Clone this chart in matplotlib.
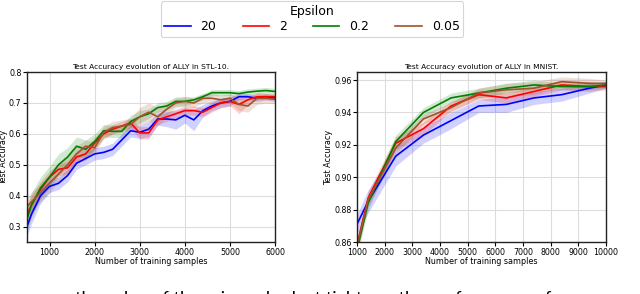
import numpy as np
import matplotlib
matplotlib.use('Agg')
import matplotlib.pyplot as plt

# STL-10 run
stl_x = [500, 600, 800, 1000, 1200, 1400, 1600, 1800, 2000, 2200, 2400, 2600, 2800, 3000,
         3200, 3400, 3600, 3800, 4000, 4200, 4400, 4600, 4800, 5000, 5200, 5400, 5600, 5800, 6000]
stl_eps20 = [0.300, 0.340, 0.400, 0.430, 0.440, 0.465, 0.505, 0.520, 0.535, 0.540, 0.550, 0.580,
             0.610, 0.605, 0.615, 0.648, 0.648, 0.645, 0.660, 0.645, 0.675, 0.690, 0.700, 0.705,
             0.720, 0.720, 0.715, 0.720, 0.715]
stl_eps2 = [0.340, 0.370, 0.420, 0.460, 0.485, 0.490, 0.525, 0.535, 0.570, 0.600, 0.615, 0.625,
            0.635, 0.603, 0.603, 0.645, 0.655, 0.665, 0.675, 0.675, 0.670, 0.685, 0.700, 0.705,
            0.695, 0.710, 0.720, 0.720, 0.720]
stl_eps02 = [0.325, 0.370, 0.425, 0.460, 0.500, 0.525, 0.560, 0.550, 0.575, 0.610, 0.608, 0.608,
             0.640, 0.655, 0.665, 0.685, 0.690, 0.705, 0.705, 0.710, 0.720, 0.733, 0.733, 0.733,
             0.730, 0.735, 0.738, 0.740, 0.737]
stl_eps005 = [0.365, 0.380, 0.410, 0.440, 0.470, 0.500, 0.535, 0.560, 0.555, 0.605, 0.620, 0.625,
              0.630, 0.655, 0.670, 0.655, 0.680, 0.700, 0.705, 0.700, 0.715, 0.715, 0.710, 0.715,
              0.695, 0.690, 0.715, 0.715, 0.712]
stl_sd20 = [0.03, 0.03, 0.025, 0.02, 0.02, 0.02, 0.02, 0.02, 0.02, 0.02, 0.02, 0.02, 0.02, 0.02,
            0.025, 0.02, 0.025, 0.03, 0.025, 0.035, 0.02, 0.015, 0.015, 0.015, 0.01, 0.01, 0.01, 0.01, 0.01]
stl_sd2 = [0.03, 0.03, 0.025, 0.02, 0.02, 0.02, 0.02, 0.02, 0.02, 0.015, 0.015, 0.015, 0.015, 0.02,
           0.02, 0.015, 0.015, 0.015, 0.015, 0.015, 0.015, 0.015, 0.015, 0.015, 0.03, 0.015, 0.01, 0.01, 0.01]
stl_sd02 = [0.04, 0.04, 0.035, 0.035, 0.035, 0.03, 0.03, 0.03, 0.025, 0.02, 0.02, 0.02, 0.02, 0.02,
            0.015, 0.015, 0.015, 0.015, 0.015, 0.01, 0.01, 0.01, 0.01, 0.01, 0.01, 0.01, 0.01, 0.01, 0.01]
stl_sd005 = [0.03, 0.03, 0.03, 0.03, 0.025, 0.025, 0.025, 0.02, 0.02, 0.02, 0.02, 0.02, 0.02, 0.03,
             0.03, 0.03, 0.02, 0.015, 0.015, 0.015, 0.015, 0.015, 0.015, 0.015, 0.02, 0.02, 0.02, 0.015, 0.015]

# MNIST run
mn_x = [1000, 1400, 2400, 3400, 4400, 5400, 6400, 7400, 8400, 9400, 10000]
mn_eps20 = [0.871, 0.885, 0.913, 0.926, 0.935, 0.944, 0.945, 0.949, 0.951, 0.955, 0.957]
mn_eps2 = [0.858, 0.887, 0.921, 0.930, 0.944, 0.951, 0.949, 0.953, 0.957, 0.956, 0.956]
mn_eps02 = [0.855, 0.884, 0.922, 0.940, 0.949, 0.952, 0.955, 0.957, 0.956, 0.956, 0.957]
mn_eps005 = [0.857, 0.886, 0.918, 0.936, 0.943, 0.952, 0.954, 0.955, 0.959, 0.958, 0.958]
mn_sd20 = [0.006, 0.007, 0.006, 0.005, 0.005, 0.004, 0.005, 0.004, 0.004, 0.003, 0.002]
mn_sd2 = [0.004, 0.004, 0.004, 0.004, 0.003, 0.003, 0.003, 0.003, 0.003, 0.003, 0.002]
mn_sd02 = [0.004, 0.004, 0.004, 0.003, 0.003, 0.003, 0.003, 0.003, 0.002, 0.002, 0.002]
mn_sd005 = [0.004, 0.004, 0.004, 0.003, 0.003, 0.003, 0.004, 0.004, 0.003, 0.003, 0.002]

labels = ['20', '2', '0.2', '0.05']
colors = ['#0000ff', '#ff0000', '#008000', '#a0522d']

fig = plt.figure(figsize=(6.4, 2.94), dpi=100)
ax1 = fig.add_axes([27/640, 52/294, 248/640, 170/294])
ax2 = fig.add_axes([357/640, 52/294, 249/640, 170/294])


def draw(ax, x, ys, sds):
    lines = []
    for y, sd, c, lab in zip(ys, sds, colors, labels):
        y = np.array(y)
        sd = np.array(sd)
        ax.fill_between(x, y - sd, y + sd, color=c, alpha=0.18, lw=0)
        l, = ax.plot(x, y, color=c, lw=1.2, label=lab)
        lines.append(l)
    ax.grid(True, color='#dddddd', lw=0.8)
    ax.set_axisbelow(True)
    ax.tick_params(labelsize=5.7, length=3, width=0.8, pad=1)
    for s in ax.spines.values():
        s.set_linewidth(1.0)
        s.set_color('#222222')
    ax.set_xlabel('Number of training samples', fontsize=5.8, labelpad=0)
    ax.set_ylabel('Test Accuracy', fontsize=5.8, labelpad=0.5)
    return lines


lines = draw(ax1, stl_x, [stl_eps20, stl_eps2, stl_eps02, stl_eps005],
             [stl_sd20, stl_sd2, stl_sd02, stl_sd005])
ax1.set_xlim(500, 6000)
ax1.set_ylim(0.25, 0.8)
ax1.set_xticks([1000, 2000, 3000, 4000, 5000, 6000])
ax1.set_yticks([0.3, 0.4, 0.5, 0.6, 0.7, 0.8])
ax1.set_title('Test Accuracy evolution of ALLY in STL-10.', fontsize=5.4, pad=2)

draw(ax2, mn_x, [mn_eps20, mn_eps2, mn_eps02, mn_eps005],
     [mn_sd20, mn_sd2, mn_sd02, mn_sd005])
ax2.set_xlim(1000, 10000)
ax2.set_ylim(0.86, 0.965)
ax2.set_xticks(range(1000, 10001, 1000))
ax2.set_yticks([0.86, 0.88, 0.90, 0.92, 0.94, 0.96])
ax2.set_yticklabels(['0.86', '0.88', '0.90', '0.92', '0.94', '0.96'])
ax2.set_title('Test Accuracy evolution of ALLY in MNIST.', fontsize=5.4, pad=2)

leg = fig.legend(handles=lines, labels=labels, title='Epsilon', ncol=4,
                 loc='upper center', bbox_to_anchor=(312/640, 1.0),
                 fontsize=9, title_fontsize=9, frameon=True, fancybox=True,
                 handlelength=2.1, columnspacing=2.1, borderpad=0.3,
                 labelspacing=0.2, handletextpad=0.8, borderaxespad=0.1)
leg.get_frame().set_edgecolor('#cccccc')
leg.get_frame().set_linewidth(0.8)

# caption line of the page, cut off by the bottom edge
fig.text(75/640, 3/294, 'the value of the privacy budget tightens, the performance of',
         fontsize=13, family='Lato', va='top', ha='left')

fig.savefig('out.png', dpi=100)
